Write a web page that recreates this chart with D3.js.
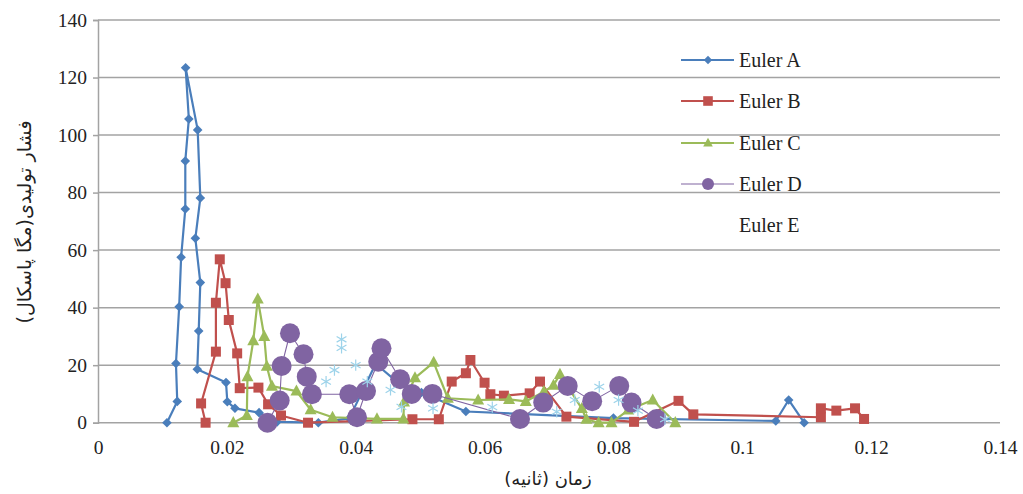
<!DOCTYPE html>
<html>
<head>
<meta charset="utf-8">
<script src="https://cdn.jsdelivr.net/npm/d3@7"></script>
<style>
  html, body { margin: 0; padding: 0; background: #fff; }
  svg { display: block; }
  text { font-family: "Liberation Serif", "DejaVu Serif", serif; fill: #222; }
  .fa { font-family: "DejaVu Sans", "Noto Sans", sans-serif; }
</style>
</head>
<body>
<svg id="chart" width="1023" height="494"></svg>
<script>
// ---- data (time s, pressure MPa) ----
const xTicks = [0, 0.02, 0.04, 0.06, 0.08, 0.1, 0.12, 0.14];
const yTicks = [0, 20, 40, 60, 80, 100, 120, 140];
const seriesNames = ["Euler A", "Euler B", "Euler C", "Euler D", "Euler E"];

const eulerA = [
  [0.0107,0],[0.0123,7.4],[0.0121,20.6],[0.0126,40.3],[0.0129,57.5],[0.01355,74.3],
  [0.01355,91],[0.0141,105.6],[0.0136,123.4],[0.01547,101.8],[0.01588,78.1],[0.01511,64.1],
  [0.01588,48.7],[0.01563,31.9],[0.01541,18.6],[0.01987,14.0],[0.02007,7.3],[0.02126,5.0],
  [0.0250,3.5],[0.0278,0.3],[0.0342,0],[0.0390,1.5],[0.0431,20.5],[0.0465,14],[0.0502,10.5],
  [0.0571,3.9],[0.0800,1.6],[0.1052,0.6],[0.1072,7.9],[0.1096,0]
];
const eulerB = [
  [0.0167,0],[0.0160,6.7],[0.0183,24.7],[0.0183,41.7],[0.0189,56.8],[0.0198,48.5],
  [0.0203,35.7],[0.0216,24.1],[0.0220,12.0],[0.0249,12.2],[0.0264,6.4],[0.0284,2.5],
  [0.0326,0],[0.0488,1.2],[0.0529,1.2],[0.0549,14.3],[0.0571,17.2],[0.0578,21.8],
  [0.0600,13.9],[0.0609,9.9],[0.0630,9.4],[0.0670,10.2],[0.0686,14.3],[0.0727,2.1],
  [0.0832,0.3],[0.0901,7.6],[0.0924,2.9],[0.1122,1.9],[0.1122,5.0],[0.1146,4.2],
  [0.1175,5.0],[0.1189,1.3]
];
const eulerC = [
  [0.0210,0],[0.0231,2.5],[0.0232,16],[0.0241,28.5],[0.0248,43],[0.0258,30],[0.0262,19.6],
  [0.0270,12.7],[0.0308,11],[0.0330,4.5],[0.0364,1.9],[0.0433,1.3],[0.0474,1.3],[0.0475,7.2],
  [0.0492,15.6],[0.0521,21],[0.0543,8.5],[0.0590,7.9],[0.0638,8.1],[0.0664,7.4],[0.0692,10.8],
  [0.0707,13],[0.0717,16.8],[0.0751,4.9],[0.0758,1.2],[0.0777,0],[0.0797,0],[0.0823,4.4],
  [0.0861,7.9],[0.0896,0]
];
const eulerD = [
  [0.0263,0],[0.0282,7.7],[0.0285,19.7],[0.0298,31.1],[0.0319,23.8],[0.0324,16],[0.0332,9.9],
  [0.0390,9.9],[0.0402,1.9],[0.0416,11],[0.0435,21.2],[0.0440,25.9],[0.0469,15.1],[0.0487,10],
  [0.0519,10],[0.0655,1.3],[0.0691,7],[0.0729,12.8],[0.0767,7.5],[0.0809,12.8],[0.0828,7],
  [0.0867,1.3]
];
const eulerE = [
  [0.0354,14.3],[0.0367,18.3],[0.0378,26],[0.0378,29],[0.0400,20],[0.0418,14.3],[0.0454,11.4],
  [0.0471,5.5],[0.0520,5],[0.0612,5.4],[0.0712,3.8],[0.0740,7.9],[0.0778,12.5],[0.0808,7.9],
  [0.0838,4.2],[0.0880,1.2]
];

// ---- layout ----
const svg = d3.select("#chart");
const x = d3.scaleLinear().domain([0, 0.14]).range([98, 1000]);
const y = d3.scaleLinear().domain([0, 140]).range([422.7, 20]);
const gridColor = "#a3a3a3";

// gridlines
svg.append("g").selectAll("line").data(yTicks).join("line")
  .attr("x1", x(0)).attr("x2", x(0.14))
  .attr("y1", d => y(d)).attr("y2", d => y(d))
  .attr("stroke", gridColor).attr("stroke-width", 1.5);

// y axis
const yAxis = d3.axisLeft(y).tickValues(yTicks).tickSize(5).tickPadding(6).tickFormat(d3.format("d"));
const gy = svg.append("g").attr("transform", `translate(${x(0)},0)`).call(yAxis);
gy.select(".domain").attr("stroke", gridColor).attr("stroke-width", 1.5);
gy.selectAll(".tick line").attr("stroke", gridColor).attr("stroke-width", 1.5);
gy.selectAll(".tick text").attr("font-size", 19.5).attr("font-family", "Liberation Serif").attr("fill", "#222");

// x axis (labels only)
const gx = svg.append("g").attr("transform", `translate(0,${y(0)})`)
  .call(d3.axisBottom(x).tickValues(xTicks).tickSize(0).tickPadding(17)
    .tickFormat(d => d === 0 ? "0" : String(+d.toFixed(2))));
gx.select(".domain").remove();
gx.selectAll(".tick text").attr("font-size", 19.5).attr("font-family", "Liberation Serif").attr("fill", "#222");

// axis titles
svg.append("text").attr("class", "fa")
  .attr("transform", "translate(31,222) rotate(-90)")
  .attr("text-anchor", "middle").attr("font-size", 19).attr("direction", "rtl")
  .text("فشار تولیدی(مگا پاسکال)");
svg.append("text").attr("class", "fa")
  .attr("x", 548).attr("y", 485)
  .attr("text-anchor", "middle").attr("font-size", 18).attr("direction", "rtl")
  .text("زمان (ثانیه)");

const line = d3.line().x(d => x(d[0])).y(d => y(d[1]));

const colors = { A: "#4a7ebb", B: "#c0504d", C: "#9bbb59", D: "#8064a2", E: "#9dd3ea" };

// marker path builders
const diamond = s => `M0,${-s}L${s},0L0,${s}L${-s},0Z`;
const square = s => `M${-s},${-s}H${s}V${s}H${-s}Z`;
const triangle = s => `M0,${-s*1.1}L${s},${s*0.75}L${-s},${s*0.75}Z`;

const plot = svg.append("g");

function drawSeries(data, color, lw, markerFn) {
  const g = plot.append("g");
  g.append("path").datum(data).attr("d", line).attr("fill", "none")
    .attr("stroke", color).attr("stroke-width", lw).attr("stroke-linejoin", "round");
  const m = g.selectAll(".m").data(data).join("g")
    .attr("transform", d => `translate(${x(d[0])},${y(d[1])})`);
  markerFn(m);
}

drawSeries(eulerA, colors.A, 2.2, m => m.append("path").attr("d", diamond(4.8)).attr("fill", colors.A));
drawSeries(eulerB, colors.B, 2.2, m => m.append("path").attr("d", square(5)).attr("fill", colors.B));
drawSeries(eulerC, colors.C, 2.2, m => m.append("path").attr("d", triangle(6)).attr("fill", colors.C));
drawSeries(eulerD, colors.D, 1.1, m => m.append("circle").attr("r", 10).attr("fill", colors.D));

// Euler E: asterisk markers, no line
plot.append("g").selectAll("path").data(eulerE).join("path")
  .attr("transform", d => `translate(${x(d[0])},${y(d[1])})`)
  .attr("d", d3.symbol(d3.symbolAsterisk, 90)())
  .attr("fill", "none").attr("stroke", colors.E).attr("stroke-width", 1.2);

// legend
const legY = [60, 101, 143, 184, 225];
const leg = svg.append("g");
const legMarkers = [
  g => g.append("path").attr("d", diamond(4.2)).attr("fill", colors.A),
  g => g.append("path").attr("d", square(4.8)).attr("fill", colors.B),
  g => g.append("path").attr("d", triangle(4.8)).attr("fill", colors.C),
  g => g.append("circle").attr("r", 6).attr("fill", colors.D),
  g => {}
];
const legColors = [colors.A, colors.B, colors.C, colors.D, null];
seriesNames.forEach((name, i) => {
  const g = leg.append("g").attr("transform", `translate(0,${legY[i]})`);
  if (legColors[i]) {
    g.append("line").attr("x1", 681).attr("x2", 734).attr("y1", 0).attr("y2", 0)
      .attr("stroke", legColors[i]).attr("stroke-width", i === 3 ? 1.2 : 2);
    const mg = g.append("g").attr("transform", "translate(708,0)");
    legMarkers[i](mg);
  }
  g.append("text").attr("x", 739).attr("y", 7).attr("font-size", 20)
    .attr("font-family", "Liberation Serif").text(name);
});
</script>
</body>
</html>
